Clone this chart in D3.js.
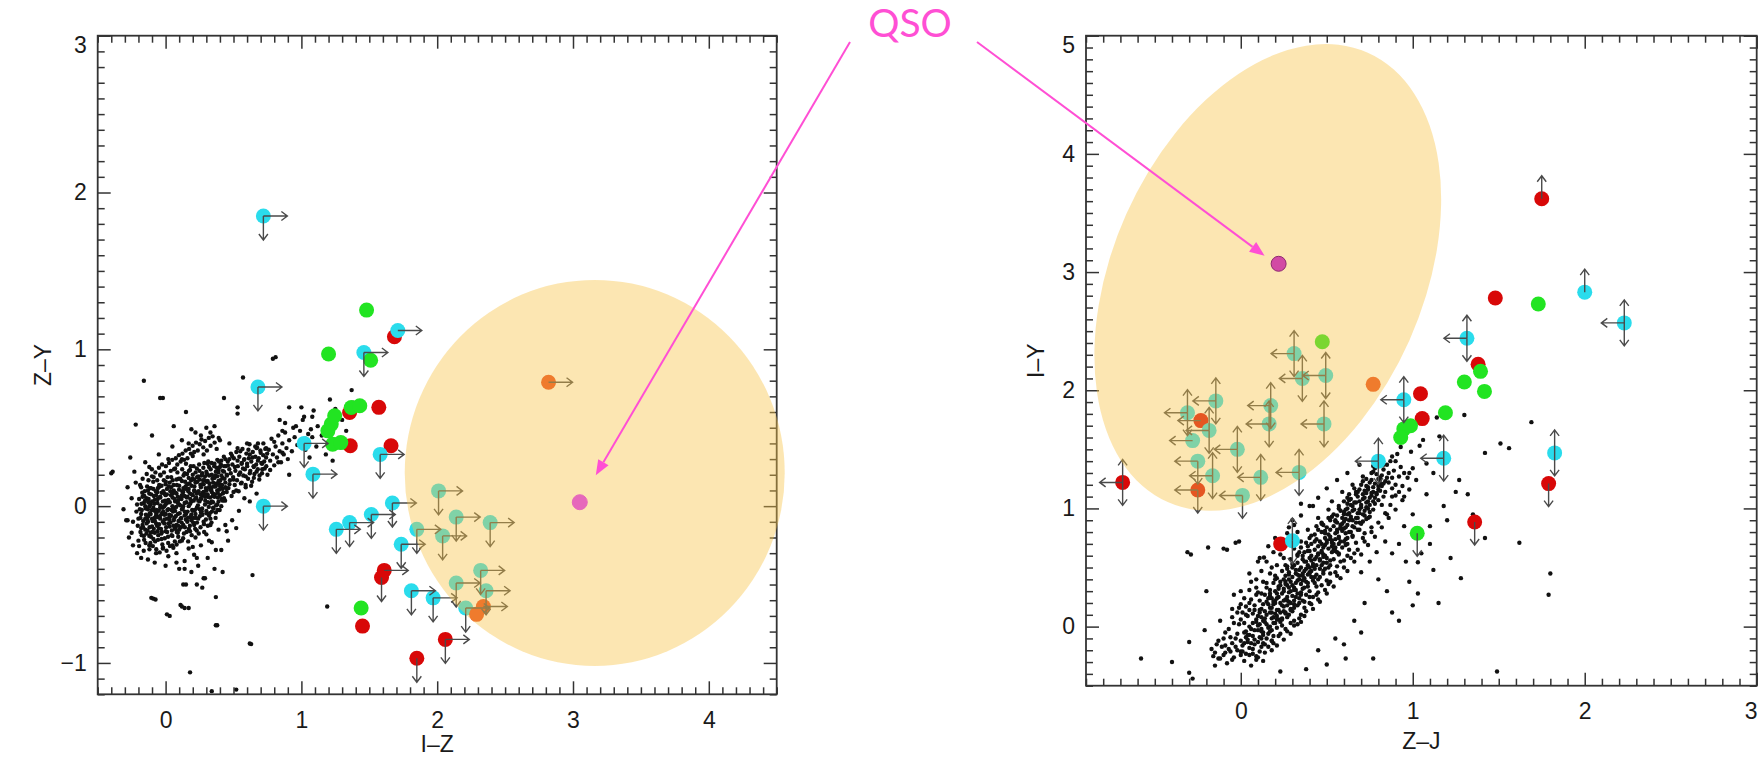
<!DOCTYPE html>
<html>
<head>
<meta charset="utf-8">
<script src="https://cdnjs.cloudflare.com/ajax/libs/d3/7.8.5/d3.min.js"></script>
<style>
  html, body { margin: 0; padding: 0; background: #fff; }
  svg { display: block; }
</style>
</head>
<body>
<svg id="fig" width="1759" height="759"></svg>
<script>
// ---------- Left panel: Z–Y against I–Z ----------
const leftXTicks = [0, 1, 2, 3, 4];
const leftYTicks = [-1, 0, 1, 2, 3];
const leftXDomain = [-0.5, 4.5];
const leftYDomain = [-1.2, 3];

// field stars (black dots)
const leftStars = [
  [-.18,-.05],[-.17,-.12],[-.16,.02],[-.15,-.08],[-.15,-.15],[-.14,.05],[-.13,-.02],[-.13,-.10],[-.12,-.19],[-.12,.08],
  [-.11,-.05],[-.11,.01],[-.10,-.13],[-.10,-.08],[-.09,.11],[-.09,-.01],[-.08,-.17],[-.08,.04],[-.07,-.06],[-.07,-.11],
  [-.06,.02],[-.06,.09],[-.05,-.03],[-.05,-.14],[-.04,.06],[-.04,-.08],[-.03,-.21],[-.03,.13],[-.02,-.01],[-.02,.03],
  [-.01,-.11],[-.01,.08],[0,-.05],[0,.01],[0,-.16],[.01,.11],[.01,-.08],[.02,.04],[.02,-.02],[.03,-.13],
  [.03,.15],[.04,-.06],[.04,.07],[.05,.00],[.05,-.19],[.06,.10],[.06,-.09],[.07,.03],[.07,-.03],[.08,.17],
  [.08,-.12],[.09,.06],[.09,-.05],[.10,.13],[.10,.01],[.10,-.15],[-.19,-.02],[-.18,-.14],[-.16,-.19],[-.14,-.11],
  [-.12,.00],[-.10,.03],[-.09,-.21],[-.07,.07],[-.05,.12],[-.04,-.01],[-.02,-.10],[0,.07],[.02,-.11],[.04,.12],
  [.06,-.01],[.08,.08],[.09,-.17],[-.13,.10],[-.11,-.17],[-.08,-.03],[-.06,-.07],[-.03,-.05],[-.01,.00],[.01,.02],
  [.03,-.07],[.05,.08],[.07,-.14],[.09,.02],[-.15,.00],[-.17,.06],[-.20,-.08],[-.21,.01],[-.06,-.16],[.00,.14],
  [.11,.05],[.11,-.08],[.12,.16],[.12,-.02],[.13,.09],[.13,-.12],[.14,.02],[.14,.21],[.15,-.05],[.15,.11],
  [.16,.06],[.16,-.10],[.17,.18],[.17,.00],[.18,.08],[.18,-.07],[.19,.13],[.19,.03],[.20,-.03],[.20,.20],
  [.21,.10],[.21,-.12],[.22,.05],[.22,.15],[.23,-.01],[.23,.24],[.24,.09],[.24,-.08],[.25,.17],[.25,.03],
  [.26,.12],[.26,-.04],[.27,.21],[.27,.07],[.28,-.10],[.28,.14],[.29,.01],[.29,.19],[.30,.10],[.30,-.03],
  [.31,.16],[.31,.06],[.32,.25],[.32,-.06],[.33,.12],[.33,.02],[.34,.20],[.34,.09],[.35,-.01],[.35,.15],
  [.36,.27],[.36,.06],[.37,.13],[.37,-.04],[.38,.19],[.38,.10],[.39,.03],[.39,.23],[.40,.14],[.40,.07],
  [.41,.29],[.41,.00],[.42,.18],[.42,.11],[.43,.22],[.43,.05],[.44,.15],[.44,.30],[.45,.09],[.45,.20],
  [.12,.07],[.14,-.06],[.16,.14],[.18,.23],[.20,.07],[.22,-.05],[.24,.19],[.26,.05],[.28,.09],[.30,.22],
  [.32,.12],[.34,.03],[.36,.18],[.38,.01],[.40,.25],[.42,.08],[.44,.12],[.13,.00],[.17,.11],[.19,-.09],
  [.21,.17],[.23,.08],[.25,-.02],[.27,.14],[.29,.06],[.31,.27],[.33,-.08],[.35,.08],[.37,.22],[.39,.16],
  [.46,.26],[.47,.14],[.48,.21],[.49,.32],[.50,.17],[.51,.25],[.52,.10],[.53,.29],[.54,.20],[.55,.35],
  [.56,.15],[.57,.24],[.58,.30],[.59,.19],[.60,.27],[.61,.36],[.62,.21],[.63,.13],[.64,.31],[.65,.25],
  [.66,.38],[.67,.22],[.68,.29],[.69,.17],[.70,.34],[.71,.27],[.72,.40],[.73,.24],[.74,.31],[.75,.20],
  [.76,.36],[.77,.29],[.78,.43],[.79,.33],[.80,.26],[.81,.38],[.82,.31],[.83,.45],[.84,.35],[.85,.28],
  [.86,.40],[.87,.33],[.88,.47],[.89,.37],[.91,.42],[.93,.35],[.95,.44],[.97,.39],[.99,.48],[.47,.30],
  [.50,.09],[.53,.37],[.56,.27],[.59,.12],[.62,.33],[.65,.18],[.68,.40],[.71,.21],[.74,.37],[.77,.23],
  [.80,.41],[.83,.28],[.86,.34],[.90,.30],[.94,.50],[1.0,.41],[1.03,.36],[1.05,.46],[1.08,.44],[1.12,.51],
  [.05,-.25],[.08,-.30],[.12,-.22],[.14,-.35],[.17,-.27],[.19,-.42],[.21,-.31],[.22,-.20],[.24,-.38],[.26,-.25],
  [.28,-.46],[.30,-.18],[.31,-.33],[.34,-.23],[.36,-.40],[.39,-.15],[.41,-.28],[.44,-.12],[.46,-.22],[.49,-.09],
  [.02,-.32],[-.02,-.27],[-.07,-.30],[-.12,-.25],[.15,-.50],[.27,-.52],[.33,-.12],[.18,-.16],[.10,-.40],[.52,-.14],
  [-.20,-.22],[-.24,-.10],[-.18,.12],[-.10,.19],[-.04,.20],[.07,.24],[.12,.30],[.20,.32],[.28,.33],[.15,.27],
  [-.16,.80],[-.02,.69],[-.22,.52],[-.39,.22],[-.28,-.09],[-.25,-.17],[-.09,-.59],[.03,-.70],[.18,-1.06],[.38,-.76],
  [.63,-.88],[.64,-.44],[1.19,-.64],[.81,.95],[.79,.94],[.57,.82],[.43,.69],[.15,.60],[.06,.51],[1.02,.57],
  [1.08,.57],[.88,.53],[.53,.59],[.36,.51],[.19,.49],[-.10,.45],[.42,-.42],[.29,-.46],[.14,-.40],[.11,-.63],
  [.14,-.65],[-.04,.69],[.53,.63],[1.0,.63],[1.09,.61],[1.21,.68],[1.37,.74],[1.20,.53],[.91,.63],[.84,.55],
  [1.01,.55],[1.23,.29],[.91,.20],[1.06,.31],[.67,.08],[.62,.03],[.45,-.16],[.32,-.22],[.20,-.26],[-.26,.31],
  [-.23,.22],[-.29,-.09],[-.40,.21],[.67,.37],[.86,.48],[.96,.51],[1.15,.45],[1.25,.62],[1.30,.55],[1.33,.48],
  [1.38,.66],[1.11,.38],[1.18,.33],[1.27,.40],[1.03,.43],[1.07,.49],[.37,-.58],[.37,-.76],[.62,-.876],[.01,-.69],
  [.12,-.64],[.17,-.65],[-.105,-.585],[-.074,-.595],[.13,-.50],[.23,-.50],[.34,-1.18],[.52,-1.17],
  [-.215,-.035],[-.205,-.125],[-.195,.045],[-.185,-.165],[-.175,-.025],[-.172,.085],[-.165,-.095],[-.158,-.215],[-.152,.035],[-.145,-.055],
  [-.141,-.175],[-.136,.125],[-.128,-.065],[-.125,.045],[-.118,-.135],[-.112,-.235],[-.106,.075],[-.102,-.025],[-.096,-.095],[-.091,.155],
  [-.087,-.145],[-.083,.015],[-.077,-.225],[-.072,.095],[-.068,-.045],[-.063,-.125],[-.058,.045],[-.054,-.185],[-.047,.135],[-.043,-.065],
  [-.038,.005],[-.034,-.145],[-.029,.085],[-.024,-.245],[-.018,-.035],[-.013,.165],[-.008,-.085],[-.004,.035],[.004,-.135],[.009,.075],
  [.013,-.025],[.018,-.195],[.022,.125],[.027,-.055],[.031,.025],[.036,-.105],[.041,.185],[.046,-.155],[.051,.055],[.055,-.035],
  [.059,.135],[.064,-.075],[.068,-.225],[.073,.085],[.078,-.005],[.082,-.165],[.087,.215],[.091,.035],[.095,-.095],[.099,.105],
  [.104,-.045],[.108,.175],[.113,-.135],[.117,.045],[.122,.235],[.126,-.015],[.131,.115],[.135,-.175],[.139,.065],[.144,.155],
  [.149,-.085],[.153,.025],[.158,.205],[.162,-.035],[.167,.095],[.171,-.145],[.176,.145],[.181,.015],[.185,.255],[.189,-.055],
  [.194,.075],[.198,.175],[.203,-.105],[.207,.035],[.212,.125],[.216,-.025],[.221,.215],[.225,.055],[.229,-.155],[.234,.155],
  [.238,.005],[.243,.095],[.247,.265],[.252,-.065],[.256,.135],[.261,.045],[.265,.195],[.269,-.015],[.274,.085],[.278,.245],
  [.283,-.115],[.287,.165],[.292,.035],[.296,.115],[.301,-.045],[.305,.205],[.309,.075],[.314,.285],[.318,-.005],[.323,.145],
  [.327,.055],[.332,.235],[.336,.105],[.341,-.035],[.345,.175],[.349,.025],[.354,.125],[.358,.255],[.363,.075],[.367,.195],
  [.372,.005],[.376,.145],[.381,.295],[.385,.055],[.389,.215],[.394,.105],[.398,-.025],[.403,.165],[.407,.265],[.412,.045],
  [.416,.135],[.421,.225],[.425,.085],[.429,.315],[.434,.175],[.438,.035],[.443,.255],[.447,.115],
  [.452,.195],[.458,.285],[.463,.115],[.469,.235],[.474,.165],[.481,.335],[.486,.065],[.492,.265],[.497,.185],[.503,.305],
  [.509,.135],[.514,.225],[.521,.345],[.526,.165],[.532,.255],[.538,.095],[.543,.315],[.549,.215],[.555,.145],[.561,.275],
  [.566,.365],[.572,.195],[.578,.295],[.584,.235],[.589,.135],[.595,.335],[.601,.255],[.607,.175],[.613,.305],[.618,.395],
  [.624,.225],[.631,.285],[.637,.155],[.642,.345],[.648,.255],[.654,.205],[.661,.315],[.667,.265],[.673,.375],[.679,.235],
  [.686,.305],[.692,.195],[.698,.355],[.705,.275],[.712,.235],[.719,.325],[.726,.285],[.734,.365],[.741,.255],[.748,.335],
  [-.195,-.255],[-.188,.135],[-.176,-.185],[-.169,.175],[-.161,-.285],[-.154,.095],[-.147,-.235],[-.139,.205],[-.133,-.155],[-.126,.165],
  [-.119,-.275],[-.114,.115],[-.108,-.195],[-.101,.235],[-.094,-.255],[-.088,.185],[-.081,-.075],[-.075,.215],[-.069,-.275],[-.062,.165],
  [-.056,-.215],[-.049,.245],[-.044,-.295],[-.037,.195],[-.031,-.175],[-.026,.265],[-.019,-.265],[-.012,.215],[-.006,-.205],[.002,.255],
  [.007,-.285],[.014,.185],[.019,-.235],[.025,.275],[.032,-.255],[.038,.225],[.044,-.185],[.049,.295],[.057,-.265],[.062,.235],
  [.069,-.145],[.075,.305],[.081,-.245],[.086,.265],[.093,-.195],[.098,.325],[.105,-.225],[.111,.285],[.118,-.105],[.124,.335],
  [.129,-.205],[.136,.295],[.142,-.135],[.148,.355],[.154,-.165],[.161,.305],[.166,-.225],[.173,.365],[.179,-.125],[.186,.335],
  [.192,-.185],[.199,.385],[.205,-.075],[.211,.345],[.218,-.145],[.224,.405],[.231,-.105],[.237,.355],[.244,-.175],[.251,.395],
  [.257,-.135],[.264,.425],[.271,-.055],[.277,.375],[.284,-.165],[.291,.415],[.297,-.085],[.304,.355],[.311,-.125],[.318,.435],
  [.325,-.045],[.331,.385],[.338,-.105],[.346,.445],[.353,-.015],[.361,.405],[.368,-.075],[.376,.365],[.383,-.025],[.391,.435],
  [-.185,-.075],[-.177,.015],[-.166,-.135],[-.157,.065],[-.146,-.015],[-.134,-.085],[-.127,.025],[-.117,-.045],[-.107,.115],[-.097,-.165],
  [-.086,.065],[-.079,-.095],[-.066,-.025],[-.057,.115],[-.048,-.115],[-.039,.055],[-.028,-.165],[-.017,.095],[-.009,-.055],[.001,.155],
  [.011,-.165],[.017,.035],[.028,-.085],[.035,.095],[.043,-.025],[.052,.165],[.058,-.125],[.066,.045],[.074,-.065],[.083,.135],
  [.092,-.125],[.097,.175],[.107,.005],[.115,-.075],[.123,.095],[.132,.195],[.141,-.035],[.147,.125],[.156,.055],[.164,-.075],
  [.172,.225],[.182,.045],[.188,.165],[.196,-.025],[.206,.255],[.214,.095],[.223,-.075],[.232,.185],[.241,.035],[.249,.225],
  [.258,.075],[.266,-.035],[.276,.165],[.285,.275],[.293,.075],[.303,.155],[.312,.025],[.321,.195],[.329,.105],[.339,.275],
  [.348,.065],[.357,.185],[.366,.125],[.375,.245],[.384,.085],[.393,.285],[.402,.125],[.411,.195],[.421,.035],[.431,.255],
  [-.15,.28],[-.05,.33],[.05,.38],[.12,.42],[.22,.47],[.30,.50],[.02,.30],[-.12,.25],[.17,.40],[.26,.45],
  [-.22,.15],[-.25,.05],[-.24,-.25],[-.18,-.33],[-.08,-.36],[.00,-.38],[.08,-.36],[.33,.47],[.40,.42],[.47,.40],
  [-.28,.12],[-.31,-.02],[-.27,-.20],[-.21,-.30],[-.13,-.34],[.23,-.33],[.37,-.28],[.54,-.03],[.58,.05],[.60,.40]
];

// candidates: [I–Z, Z–Y, limit directions]
const leftCyan = [
  [0.72,1.85,"RD"],[0.68,0.76,"RD"],[0.72,0.0,"RD"],[1.02,0.40,"RD"],[1.085,0.204,"RD"],[1.46,0.98,"RD"],
  [1.71,1.12,"R"],[1.58,0.33,"RD"],[1.257,-0.148,"RD"],[1.355,-0.105,"RD"],[1.515,-0.053,"RD"],[1.67,0.02,"RD"],
  [1.735,-0.243,"RD"],[1.81,-0.54,"RD"],[1.97,-0.585,"RD"],[2.01,0.097,"RD"],[2.14,-0.07,"RD"],[2.39,-0.105,"RD"],
  [1.85,-0.148,"RD"],[2.04,-0.19,"RD"],[2.14,-0.49,"RD"],[2.32,-0.41,"RD"],[2.36,-0.54,"RD"],[2.21,-0.65,"RD"]
];
const leftRed = [
  [1.57,0.63,""],[1.36,0.385,""],[1.66,0.385,""],[1.61,-0.41,"R"],[1.59,-0.455,"D"],[1.45,-0.765,""],
  [2.06,-0.85,"RD"],[1.85,-0.97,"D"],[1.685,1.08,""],[1.355,0.597,""]
];
const leftGreen = [
  [1.22,0.523,""],[1.245,0.576,""],[1.195,0.48,""],[1.23,0.395,""],[1.29,0.405,""],[1.367,0.629,""],
  [1.43,0.64,""],[1.20,0.97,""],[1.48,1.25,""],[1.51,0.93,""],[1.44,-0.65,""]
];
const leftOrange = [[2.82,0.79,"R"],[2.34,-0.64,"R"],[2.29,-0.69,""]];
const leftQSO = [3.05, 0.025];

// ---------- Right panel: I–Y against Z–J ----------
const rightXTicks = [0, 1, 2, 3];
const rightYTicks = [0, 1, 2, 3, 4, 5];
const rightXDomain = [-0.9, 3];
const rightYDomain = [-0.5, 5];

const rightStars = [
  [-.08,-.31],[.02,-.29],[-.13,-.27],[.06,-.33],
  [-.10,-.24],[-.04,-.26],[.03,-.23],[.09,-.25],[-.15,-.22],[.00,-.21],
  [-.07,-.19],[-.02,-.20],[.05,-.18],[.11,-.21],[-.11,-.17],[.01,-.16],[.08,-.15],[-.05,-.14],
  [.00,-.12],[.04,-.11],[.10,-.13],[.15,-.10],[-.06,-.09],[.07,-.08],[.13,-.07],[.18,-.12],[-.02,-.06],[.03,-.04],
  [.08,-.03],[.12,-.02],[.17,-.04],[.21,-.01],[.05,.00],[.10,.01],[.15,.02],[.26,-.02],[-.01,.02],[.19,.03],[.23,.04],
  [.09,.06],[.13,.05],[.18,.07],[.22,.06],[.27,.08],[.04,.09],[.15,.10],[.20,.11],[.31,.05],[.11,.12],[.25,.13],[.35,.10],
  [.12,.15],[.17,.16],[.21,.14],[.25,.17],[.29,.15],[.08,.18],[.19,.19],[.23,.20],[.33,.18],[.15,.21],[.27,.22],[.37,.16],[.05,.14],
  [.18,.24],[.22,.25],[.26,.23],[.30,.26],[.34,.24],[.14,.27],[.24,.28],[.28,.29],[.38,.27],[.20,.30],[.32,.31],[.42,.25],[.10,.29],
  [.22,.34],[.27,.35],[.31,.33],[.35,.36],[.39,.34],[.19,.37],[.29,.38],[.33,.39],[.43,.37],[.25,.40],[.37,.41],[.47,.35],[.15,.33],
  [.28,.44],[.32,.45],[.36,.43],[.40,.46],[.44,.44],[.24,.47],[.34,.48],[.38,.49],[.48,.47],[.30,.50],[.42,.51],[.52,.45],[.20,.43],
  [.33,.54],[.38,.55],[.42,.53],[.46,.56],[.50,.54],[.29,.57],[.40,.58],[.44,.59],[.54,.57],[.36,.60],[.48,.61],[.58,.55],[.26,.52],
  [.39,.64],[.43,.65],[.47,.63],[.51,.66],[.55,.64],[.35,.67],[.45,.68],[.49,.69],[.59,.67],[.41,.70],[.53,.71],[.63,.65],
  [.44,.74],[.49,.75],[.53,.73],[.57,.76],[.61,.74],[.41,.77],[.51,.78],[.55,.79],[.65,.77],[.47,.80],[.59,.81],
  [.50,.84],[.54,.85],[.58,.83],[.62,.86],[.66,.84],[.47,.87],[.56,.88],[.60,.89],[.70,.87],[.52,.90],[.64,.91],
  [.56,.94],[.60,.95],[.64,.93],[.68,.96],[.72,.94],[.58,.98],[.66,.99],[.75,.97],[.62,1.0],[.70,1.01],
  [.62,1.04],[.66,1.05],[.70,1.03],[.74,1.06],[.78,1.04],[.64,1.08],[.72,1.09],[.80,1.07],[.68,1.10],[.76,1.11],
  [.68,1.14],[.72,1.15],[.76,1.13],[.80,1.16],[.84,1.14],[.74,1.18],[.82,1.19],[.78,1.21],[.88,1.17],
  [.76,1.24],[.80,1.25],[.84,1.23],[.88,1.26],[.79,1.29],[.86,1.30],[.92,1.27],[.83,1.33],
  [.85,1.37],[.90,1.40],[.88,1.44],[.93,1.35],
  [-.09,-.16],[.04,-.13],[.12,-.17],
  [.02,-.05],[.07,.03],[.13,-.05],[.17,.00],[.24,.01],[.29,.03],
  [.07,.11],[.12,.08],[.17,.12],[.21,.09],[.26,.11],[.30,.13],[.34,.07],[.14,.13],
  [.11,.22],[.16,.19],[.20,.22],[.24,.18],[.28,.21],[.31,.19],[.36,.22],[.40,.20],
  [.17,.31],[.21,.28],[.25,.32],[.29,.30],[.33,.28],[.36,.32],[.40,.30],[.45,.29],
  [.21,.41],[.26,.38],[.30,.42],[.34,.40],[.38,.38],[.41,.42],[.45,.40],[.50,.39],
  [.27,.49],[.31,.52],[.35,.50],[.39,.52],[.43,.49],[.47,.52],[.51,.50],[.56,.51],
  [.33,.61],[.37,.63],[.41,.60],[.45,.62],[.49,.60],[.53,.63],[.57,.61],[.62,.60],
  [.38,.71],[.43,.72],[.47,.70],[.50,.73],[.54,.70],[.58,.72],[.62,.70],[.67,.71],
  [.45,.82],[.49,.79],[.52,.82],[.56,.80],[.60,.83],[.63,.80],[.68,.82],[.72,.79],
  [.51,.92],[.55,.90],[.59,.92],[.63,.90],[.67,.92],[.71,.89],[.74,.92],
  [.57,1.02],[.61,.99],[.65,1.02],[.69,.99],[.73,1.01],[.77,.99],
  [.63,1.12],[.67,1.12],[.71,1.12],[.75,1.09],[.79,1.12],[.83,1.10],
  [.70,1.20],[.75,1.22],[.81,1.21],[.86,1.22],[.90,1.20],
  [.77,1.31],[.82,1.28],[.89,1.32],[.95,1.30],
  [-.12,-.27],[.10,-.26],[-.05,-.28],[.14,-.22],[-.17,-.19],[.16,-.17],[-.13,-.12],[.19,-.14],[-.03,-.10],[.22,-.08],
  [-.09,-.05],[.05,-.07],[.27,-.04],[-.04,.03],[.31,.01],[.00,.06],[.09,.04],[.35,.04],[-.02,.12],[.28,.10],
  [.03,.17],[.38,.13],[.11,.14],[.06,.23],[.41,.19],[.17,.26],[.09,.33],[.45,.23],[.35,.27],[.13,.38],
  [.49,.31],[.23,.35],[.17,.45],[.52,.38],[.39,.44],[.21,.52],[.56,.43],[.28,.46],[.25,.58],[.60,.50],
  [.46,.57],[.31,.66],[.64,.58],[.37,.55],[.35,.72],[.68,.65],[.52,.74],[.39,.82],[.72,.72],[.44,.85],
  [.45,.92],[.76,.80],[.58,.86],[.51,.99],[.80,.88],[.53,1.06],[.84,.96],[.63,1.07],[.59,1.14],[.87,1.03],
  [.65,1.20],[.90,1.11],[.71,1.27],[.94,1.19],[.77,1.36],[.97,1.26],[.82,1.41],[1.00,1.34],
  [.02,-.14],[.07,-.19],[.11,-.09],[.16,-.06],[.06,-.02],[.20,.03],[.14,.07],[.23,.12],[.18,.16],[.27,.18],
  [.21,.24],[.31,.22],[.25,.30],[.35,.29],[.30,.35],[.39,.37],[.34,.43],[.43,.42],[.37,.47],[.46,.49],
  [.41,.56],[.50,.58],[.45,.61],[.54,.65],[.48,.67],[.57,.70],[.52,.76],[.61,.79],[.56,.82],[.65,.85],
  [.59,.87],[.68,.92],[.63,.96],[.72,.98],[.67,1.05],[.75,1.03],[.71,1.08],[.79,1.13],[.74,1.16],[.83,1.21],
  [.07,-.23],[.13,-.14],[.03,-.09],[.18,-.03],[.10,.09],[.24,.07],[.16,.24],[.29,.14],[.22,.32],[.34,.20],
  [.28,.40],[.40,.25],[.32,.48],[.44,.34],[.36,.57],[.48,.45],[.40,.64],[.52,.52],[.46,.72],[.57,.62],
  [.49,.81],[.61,.69],[.55,.89],[.65,.76],[.60,.97],[.69,.88],[.64,1.03],[.73,.91],[.69,1.16],[.77,1.06],
  [.73,1.25],[.81,1.15],[.78,1.34],[.85,1.26],[.87,1.40],[.91,1.46],
  [.01,-.21],[.09,-.28],[-.06,-.21],[.12,-.04],[.03,.10],[.19,.21],[.12,.28],[.26,.36],[.20,.40],[.33,.44],
  [.27,.51],[.41,.47],[.33,.60],[.48,.54],[.40,.75],[.55,.67],[.47,.88],[.62,.75],[.54,.95],[.69,.82],
  [.60,1.06],[.75,.93],[.67,1.14],[.82,1.03],[.73,1.19],[.88,1.10],[.81,1.26],[.92,1.14],
  [.24,.06],[.31,.16],[.37,.21],[.44,.27],[.51,.36],[.55,.46],[.60,.56],[.66,.62],[.71,.75],[.76,.84],
  [.18,-.12],[.23,-.06],[.01,.12],[.05,.20],[.09,.27],[.15,.37],[.18,.50],[.23,.61],[.29,.72],[.33,.80],
  [-.16,-.25],[-.09,-.22],[.13,-.29],[.18,-.20],[-.14,-.15],[.21,-.16],[-.10,-.10],[.25,-.11],[-.07,-.02],[.29,-.06],
  [-.05,.08],[.33,.02],[-.01,.16],[.37,.09],[.02,.24],[.42,.15],[.05,.31],[.46,.21],[.09,.40],[.50,.28],
  [.12,.47],[.54,.34],[.15,.55],[.58,.41],[.19,.63],[.62,.47],[.23,.70],[.66,.55],[.27,.79],[.70,.61],
  [.31,.86],[.74,.69],[.35,.94],[.78,.76],[.40,1.02],[.82,.84],[.45,1.09],[.86,.92],[.50,1.17],[.90,.99],
  [.56,1.24],[.94,1.07],[.62,1.30],[.98,1.16],[.69,1.37],[1.02,1.24],
  [-.03,-.17],[.05,-.24],[.08,-.11],[.14,-.15],[.04,-.07],[.11,.02],[.16,-.01],[.19,.08],[.08,.14],[.13,.19],
  [.22,.14],[.17,.28],[.27,.25],[.23,.38],[.31,.31],[.26,.43],[.36,.39],[.30,.53],[.40,.45],[.34,.63],
  [.44,.52],[.39,.68],[.48,.59],[.43,.78],[.53,.68],[.48,.86],[.57,.75],[.53,.93],[.61,.84],[.57,1.00],
  [.65,.90],[.62,1.09],[.69,.96],[.66,1.17],[.73,1.05],[.71,1.23],[.77,1.14],[.76,1.30],[.81,1.24],[.83,1.37],
  [.00,-.24],[.06,-.14],[.12,-.10],[.10,-.03],[.19,-.08],[.14,.04],[.21,.06],[.18,.12],[.26,.12],[.20,.20],
  [.29,.20],[.25,.22],[.32,.25],[.28,.33],[.37,.33],[.32,.37],[.42,.39],[.36,.45],[.46,.42],[.40,.50],
  [.49,.49],[.43,.57],[.52,.56],[.47,.64],[.56,.63],[.50,.71],[.60,.72],[.55,.74],[.64,.80],[.58,.84],
  [.67,.88],[.61,.91],[.71,.95],[.65,.98],[.74,1.00],[.69,1.06],[.78,1.09],[.73,1.13],[.80,1.19],[.77,1.18],
  [.02,.03],[.00,.19],[-.04,.27],[.06,.38],[.11,.58],[.16,.68],[.28,.84],[.70,.46],[.79,.63],[.84,.72],
  [1.62,.71],[1.80,.45],[1.79,.27],[1.28,.41],[1.49,-.38],[1.51,1.55],[1.56,1.51],[1.42,1.47],[1.69,1.73],[1.27,1.24],
  [1.32,1.12],[1.25,1.14],[1.42,.75],[1.03,.545],[1.03,.28],[1.08,1.12],[1.30,1.79],[1.14,1.77],[1.155,1.61],[1.04,1.53],
  [.92,.05],[.77,-.27],[.61,-.27],[.38,-.36],[.23,-.38],[-.30,-.39],[-.28,-.44],[-.30,-.13],[-.31,.63],[-.19,.67],
  [-.08,.65],[-.01,.72],[-.58,-.27],[-.21,-.03],[-.29,.61],[-.10,.66],[-.03,.71],[.35,1.04],[.135,.585],[.62,.95],
  [.93,1.52],[.99,1.48],[1.08,1.38],[1.06,1.58],
  [.95,.85],[.88,.62],[.80,.40],[.72,.20],[.66,.05],[.55,-.10],[.45,-.20],[.05,.45],[.00,.30],[-.05,.15],
  [-.12,.05],[.10,.55],[.20,.75],[.30,.90],[.42,1.02],[1.00,.95],[1.10,.70],[.95,1.10],[.85,.30],[.50,-.32],
  [-.15,-.33],[.75,.55],[1.20,.90],[-.40,-.30],[.98,1.30],[1.12,1.30],[.85,.95],[-.20,.30],
  [1.05,.62],[1.12,.48],[.98,.38],[1.18,1.02],[1.22,.58],[.92,.70],[1.00,.18],[.88,.12],[1.35,.95],[1.15,.20],
  [.70,-.05],[.60,-.15],[1.10,.85],[.96,.55]
];

// candidates: [Z–J, I–Y, limit directions]
const rightCyan = [
  [-0.31,1.81,"LUD"],[-0.145,1.91,"LUD"],[-0.184,1.66,"LUD"],[-0.28,1.574,"L"],[-0.25,1.40,"LD"],
  [-0.164,1.277,"LUD"],[-0.02,1.50,"LUD"],[0.116,1.263,"LUD"],[0.01,1.11,"LD"],[0.174,1.87,"LUD"],
  [0.165,1.715,"LUD"],[0.31,2.31,"LUD"],[0.358,2.10,"LUD"],[0.494,2.125,"LUD"],[0.484,1.715,"LUD"],
  [0.339,1.305,"LUD"],[0.948,1.92,"LUD"],[0.80,1.40,"LUD"],[0.30,0.726,"UD"],[1.315,2.44,"LUD"],
  [2.0,2.83,"U"],[2.23,2.57,"LUD"],[1.18,1.425,"LUD"],[1.825,1.47,"UD"]
];
const rightRed = [
  [-0.687,1.22,"LUD"],[-0.25,1.156,"LD"],[-0.232,1.743,"L"],[1.045,1.97,""],[1.055,1.76,""],
  [1.38,2.22,""],[1.48,2.78,""],[1.75,3.62,"U"],[1.79,1.21,"D"],[1.36,0.885,"D"],[0.232,0.70,""]
];
const rightGreen = [
  [0.474,2.41,""],[0.948,1.673,""],[0.987,1.70,""],[0.93,1.60,""],[1.394,2.16,""],[1.30,2.07,""],
  [1.417,1.99,""],[1.19,1.81,""],[1.73,2.73,""],[1.026,0.79,"D"]
];
const rightOrange = [[0.77,2.05,""]];
const rightQSO = [0.22, 3.07];

// ---------- drawing ----------
const FONT = "'Liberation Sans', Arial, Helvetica, sans-serif";
const COL = {
  star: "#111", cyan: "#2adcec", red: "#d80808", green: "#22e422",
  orange: "#e8481a", arrow: "#4a4a4a", frame: "#333", region: "#f8c448", pink: "#ff4fd4"
};
const svg = d3.select("#fig");

function arrowPath(cx, cy, dir, len) {
  const v = {R: [1, 0], L: [-1, 0], U: [0, -1], D: [0, 1]}[dir];
  const ex = cx + v[0] * len, ey = cy + v[1] * len;
  const h = 6, w = 4.5;
  const px = -v[1], py = v[0];
  const ax = ex - v[0] * h + px * w, ay = ey - v[1] * h + py * w;
  const bx = ex - v[0] * h - px * w, by = ey - v[1] * h - py * w;
  return `M${cx},${cy}L${ex},${ey}M${ax},${ay}L${ex},${ey}L${bx},${by}`;
}

function minorTicks(dom) {
  const out = [];
  for (let k = Math.ceil(dom[0] * 10 - 1e-9); k <= Math.floor(dom[1] * 10 + 1e-9); k++) {
    if (k % 10 !== 0) out.push(k / 10);
  }
  return out;
}

const fmt = d => d < 0 ? "\u2212" + Math.abs(d) : String(d);

function drawPanel(p) {
  const b = p.box;
  const x = d3.scaleLinear().domain(p.xDomain).range([b.x0, b.x1]);
  const y = d3.scaleLinear().domain(p.yDomain).range([b.y1, b.y0]);
  const g = svg.append("g");

  // field stars
  g.append("g").selectAll("circle").data(p.stars).join("circle")
    .attr("cx", d => x(d[0])).attr("cy", d => y(d[1])).attr("r", 2.2).attr("fill", COL.star);

  // candidate markers
  const sets = [[p.red, COL.red], [p.cyan, COL.cyan], [p.green, COL.green], [p.orange, COL.orange]];
  sets.forEach(([arr, col]) => {
    g.append("g").selectAll("circle").data(arr).join("circle")
      .attr("cx", d => x(d[0])).attr("cy", d => y(d[1])).attr("r", 7.5).attr("fill", col);
  });
  // limit arrows
  const ag = g.append("g").attr("fill", "none").attr("stroke", COL.arrow).attr("stroke-width", 1.4);
  sets.forEach(([arr]) => arr.forEach(d => {
    for (const c of d[2]) ag.append("path").attr("d", arrowPath(x(d[0]), y(d[1]), c, p.arrowLen));
  }));

  // axes: inward ticks on all four sides
  const mx = minorTicks(p.xDomain), my = minorTicks(p.yDomain);
  const specs = [
    [d3.axisBottom, x, `translate(0,${b.y1})`, mx, p.xTicks, true, 17],
    [d3.axisTop, x, `translate(0,${b.y0})`, mx, p.xTicks, false, 0],
    [d3.axisLeft, y, `translate(${b.x0},0)`, my, p.yTicks, true, 11],
    [d3.axisRight, y, `translate(${b.x1},0)`, my, p.yTicks, false, 0]
  ];
  specs.forEach(([ax, sc, tr, minor, major, labelled, pad]) => {
    const gm = g.append("g").attr("transform", tr)
      .call(ax(sc).tickValues(minor).tickSize(-7).tickFormat(""));
    const gM = g.append("g").attr("transform", tr)
      .call(ax(sc).tickValues(major).tickSize(-13).tickPadding(pad).tickFormat(labelled ? fmt : ""));
    [gm, gM].forEach(a => {
      a.select(".domain").remove();
      a.attr("color", COL.frame);
      a.selectAll("line").attr("stroke-width", 1.5);
      a.selectAll("text").attr("font-family", FONT).attr("font-size", 23).attr("fill", "#1a1a1a");
    });
    if (labelled && ax === d3.axisLeft) {
      const top = d3.max(major);
      gM.selectAll(".tick text").filter(d => d === top).attr("dy", "0.72em");
    }
    if (labelled && ax === d3.axisBottom && p.lastXLabelShift) {
      const last = d3.max(major);
      gM.selectAll(".tick text").filter(d => d === last).attr("dx", p.lastXLabelShift);
    }
  });

  g.append("rect").attr("x", b.x0).attr("y", b.y0)
    .attr("width", b.x1 - b.x0).attr("height", b.y1 - b.y0)
    .attr("fill", "none").attr("stroke", COL.frame).attr("stroke-width", 1.8);

  // colour–colour selection region
  const r = p.region;
  g.append("ellipse")
    .attr("transform", `translate(${x(r.cx)},${y(r.cy)}) rotate(${r.angle})`)
    .attr("rx", r.rx).attr("ry", r.ry)
    .attr("fill", COL.region).attr("fill-opacity", 0.42);

  // the quasar
  g.append("circle").attr("cx", x(p.qso[0])).attr("cy", y(p.qso[1])).attr("r", 7.5)
    .attr("fill", p.qsoFill).attr("stroke", p.qsoStroke).attr("stroke-width", 1);

  // axis titles
  g.append("text").attr("x", (b.x0 + b.x1) / 2).attr("y", p.xTitleY)
    .attr("text-anchor", "middle").attr("font-family", FONT).attr("font-size", 23)
    .attr("fill", "#1a1a1a").text(p.xTitle);
  g.append("text").attr("transform", `translate(${p.yTitleX},${(b.y0 + b.y1) / 2}) rotate(-90)`)
    .attr("text-anchor", "middle").attr("dy", "0.36em").attr("font-family", FONT).attr("font-size", 23)
    .attr("fill", "#1a1a1a").text(p.yTitle);

  return {x, y};
}

const L = drawPanel({
  box: {x0: 97.7, x1: 776.7, y0: 35.7, y1: 694.3},
  xDomain: leftXDomain, yDomain: leftYDomain, xTicks: leftXTicks, yTicks: leftYTicks,
  stars: leftStars, cyan: leftCyan, red: leftRed, green: leftGreen, orange: leftOrange,
  qso: leftQSO, qsoFill: "#e668bb", qsoStroke: "#e668bb", arrowLen: 24,
  region: {cx: 3.16, cy: 0.212, rx: 190, ry: 193, angle: 0},
  xTitle: "I\u2013Z", yTitle: "Z\u2013Y", xTitleY: 752, yTitleX: 43
});

const R = drawPanel({
  box: {x0: 1086, x1: 1756.7, y0: 35.7, y1: 685.7},
  xDomain: rightXDomain, yDomain: rightYDomain, xTicks: rightXTicks, yTicks: rightYTicks,
  stars: rightStars, cyan: rightCyan, red: rightRed, green: rightGreen, orange: rightOrange,
  qso: rightQSO, qsoFill: "#d24aa4", qsoStroke: "#8e2a70", arrowLen: 23,
  region: {cx: 0.157, cy: 2.955, rx: 246, ry: 155, angle: -66},
  xTitle: "Z\u2013J", yTitle: "I\u2013Y", xTitleY: 749, yTitleX: 1036,
  lastXLabelShift: -6
});

// ---------- QSO call-out ----------
function pointer(x0, y0, x1, y1) {
  const dx = x1 - x0, dy = y1 - y0, len = Math.hypot(dx, dy);
  const ux = dx / len, uy = dy / len, hl = 15, hw = 6;
  const bx = x1 - ux * hl, by = y1 - uy * hl;
  svg.append("line").attr("x1", x0).attr("y1", y0).attr("x2", bx).attr("y2", by)
    .attr("stroke", COL.pink).attr("stroke-width", 2);
  svg.append("path")
    .attr("d", `M${x1},${y1}L${bx - uy * hw},${by + ux * hw}L${bx + uy * hw},${by - ux * hw}Z`)
    .attr("fill", COL.pink);
}
svg.append("text").attr("x", 910).attr("y", 37).attr("text-anchor", "middle")
  .attr("font-family", "Lato, 'Open Sans', sans-serif").attr("font-size", 39)
  .attr("fill", COL.pink).text("QSO");
pointer(850, 42, L.x(leftQSO[0]) + 16, L.y(leftQSO[1]) - 27);
pointer(977, 42, R.x(rightQSO[0]) - 14, R.y(rightQSO[1]) - 8);
</script>
</body>
</html>
